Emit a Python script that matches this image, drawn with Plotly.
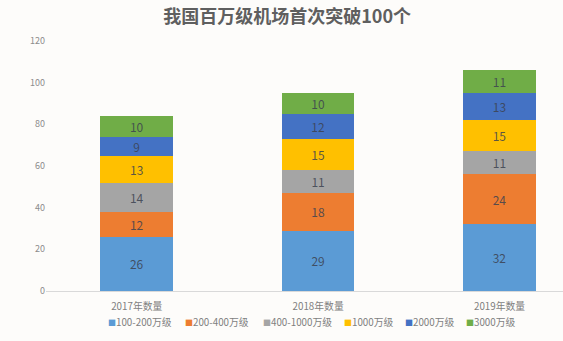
import plotly.graph_objects as go

categories = ["2017年数量", "2018年数量", "2019年数量"]
series_names = ["100-200万级", "200-400万级", "400-1000万级", "1000万级", "2000万级", "3000万级"]
v_100_200 = [26, 29, 32]
v_200_400 = [12, 18, 24]
v_400_1000 = [14, 11, 11]
v_1000 = [13, 15, 15]
v_2000 = [9, 12, 13]
v_3000 = [10, 10, 11]
series_values = [v_100_200, v_200_400, v_400_1000, v_1000, v_2000, v_3000]
colors = ["#5B9BD5", "#ED7D31", "#A5A5A5", "#FFC000", "#4472C4", "#70AD47"]
y_ticks = [0, 20, 40, 60, 80, 100, 120]

font_family = "Noto Sans CJK SC, Noto Sans, sans-serif"

fig = go.Figure()
for name, vals, col in zip(series_names, series_values, colors):
    fig.add_trace(go.Bar(
        x=categories, y=vals, name=name,
        marker=dict(color=col, line=dict(width=0)),
        text=[str(v) for v in vals],
        textposition="inside", insidetextanchor="middle", textangle=0,
        constraintext="none",
        textfont=dict(color="rgba(60,66,80,0.85)", size=12, family=font_family),
        width=0.40, showlegend=False,
    ))

# manual compact legend (Excel style)
plot_left, plot_w = 46, 517
legend_px = [106, 183, 261, 342, 403, 464]
for px, name, col in zip(legend_px, series_names, colors):
    fig.add_annotation(
        xref="paper", yref="paper", x=(px - plot_left) / plot_w, y=-0.124,
        xanchor="left", yanchor="middle", showarrow=False,
        text=f"<span style='color:{col};font-size:8px'>■</span>{name}",
        font=dict(size=9.8, color="#7F7F7F", family=font_family),
    )

fig.update_layout(
    barmode="stack",
    width=563, height=341,
    margin=dict(l=46, r=0, t=41, b=50),
    paper_bgcolor="#FDFCFA",
    plot_bgcolor="#FDFCFA",
    title=dict(text="<b>我国百万级机场首次突破100个</b>", x=0.51, xanchor="center",
               y=0.95, yanchor="middle",
               font=dict(size=18, color="#5F5F5F", family=font_family)),
    font=dict(family=font_family, color="#7F7F7F", size=9),
    showlegend=False,
)
fig.update_xaxes(range=[-0.5, 2.35], showline=True, linecolor="#D9D9D9", linewidth=1,
                 ticks="", ticklabelstandoff=6,
                 tickfont=dict(size=9.8, color="#7F7F7F"), showgrid=False)
fig.update_yaxes(range=[0, 120], tickvals=y_ticks, showgrid=False, zeroline=False,
                 showline=False, ticks="", ticklen=0,
                 tickfont=dict(size=9, color="#8C8C8C"))

fig.write_html("out.html")
